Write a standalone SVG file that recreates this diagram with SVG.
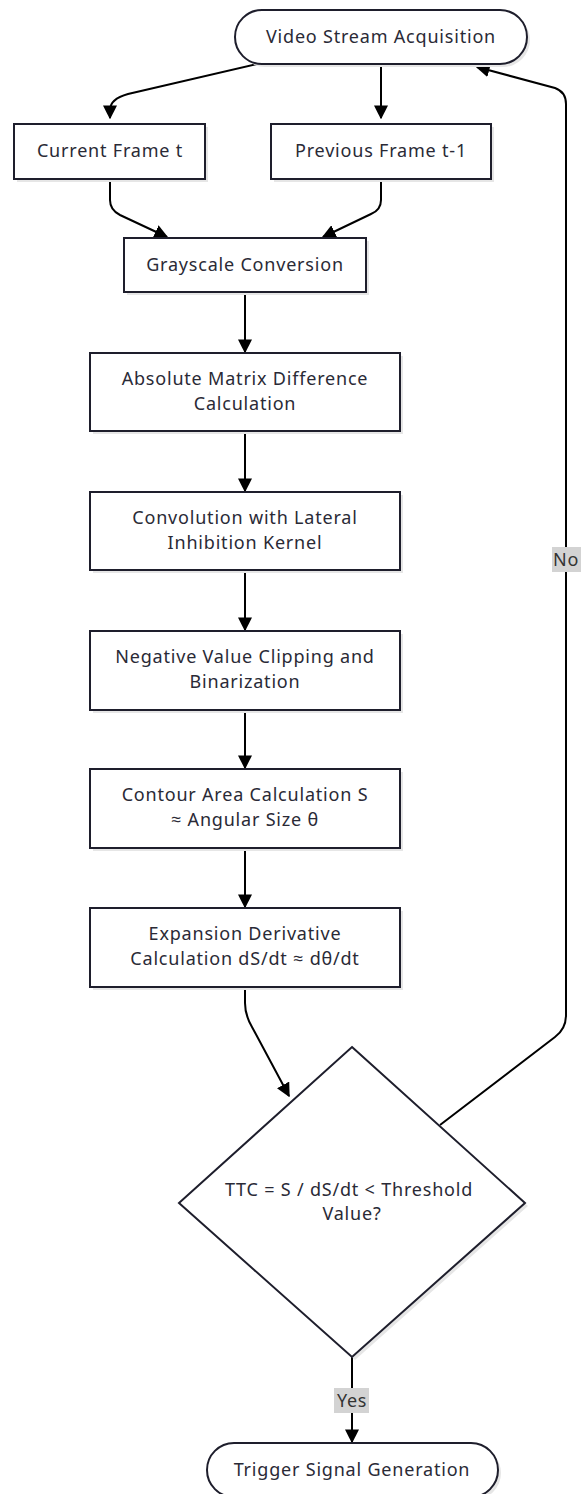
<svg xmlns="http://www.w3.org/2000/svg" width="584" height="1494" viewBox="0 0 584 1494">
<defs>
<style>
.n{fill:#ffffff;stroke:#1e1e2c;stroke-width:2}
.sh{fill:#e6e6e6;stroke:none}
.t{font-family:"Noto Sans","Open Sans",sans-serif;font-size:18px;letter-spacing:0.8px;fill:#2a2a36;text-anchor:middle}
.e{fill:none;stroke:#000000;stroke-width:2}
.lb{fill:#d3d3d3}
.lt{font-family:"Noto Sans","Open Sans",sans-serif;font-size:18px;letter-spacing:0.6px;fill:#333333;text-anchor:middle}
</style>
<marker id="ah" viewBox="0 0 10 10" refX="9" refY="5" markerWidth="7" markerHeight="7" orient="auto" markerUnits="strokeWidth">
<path d="M0,0 L10,5 L0,10 z" fill="#000000"/>
</marker>
</defs>
<rect width="584" height="1494" fill="#ffffff"/>
<g id="connectors">
<path class="e" d="M257,64 L128,94 Q110,99 110,110 L110,118" marker-end="url(#ah)"/>
<path class="e" d="M381,64 L381,118" marker-end="url(#ah)"/>
<path class="e" d="M110,179 L110,200 Q110,210 120,215 L167,237" marker-end="url(#ah)"/>
<path class="e" d="M381,179 L381,200 Q381,210 371,214 L323,237" marker-end="url(#ah)"/>
<path class="e" d="M245,292 L245,352" marker-end="url(#ah)"/>
<path class="e" d="M245,431 L245,491" marker-end="url(#ah)"/>
<path class="e" d="M245,570 L245,630" marker-end="url(#ah)"/>
<path class="e" d="M245,710 L245,768" marker-end="url(#ah)"/>
<path class="e" d="M245,848 L245,907" marker-end="url(#ah)"/>
<path class="e" d="M245,987 L245,1003 Q245,1015 252,1027 L289,1096" marker-end="url(#ah)"/>
<path class="e" d="M440,1125 L555,1037 Q566,1029 566,1015 L566,104 Q566,92 555,88 L477,67" marker-end="url(#ah)"/>
<path class="e" d="M352,1357 L352,1442" marker-end="url(#ah)"/>
<rect class="lb" x="552" y="547" width="29" height="25"/>
<text class="lt" x="566" y="566">No</text>
<rect class="lb" x="334" y="1388" width="35" height="25"/>
<text class="lt" x="352" y="1407">Yes</text>
</g>
<g id="video">
<rect class="sh" x="238" y="13" width="292" height="54" rx="27"/>
<rect class="n" x="235" y="10" width="292" height="54" rx="27"/>
<text class="t" x="381" y="43">Video Stream Acquisition</text>
</g>
<g id="current">
<rect class="sh" x="17" y="127" width="191" height="55"/>
<rect class="n" x="14" y="124" width="191" height="55"/>
<text class="t" x="110" y="157">Current Frame t</text>
</g>
<g id="previous">
<rect class="sh" x="274" y="127" width="220" height="55"/>
<rect class="n" x="271" y="124" width="220" height="55"/>
<text class="t" x="381" y="157">Previous Frame t-1</text>
</g>
<g id="grayscale">
<rect class="sh" x="127" y="241" width="242" height="54"/>
<rect class="n" x="124" y="238" width="242" height="54"/>
<text class="t" x="245" y="271">Grayscale Conversion</text>
</g>
<g id="absdiff">
<rect class="sh" x="93" y="356" width="310" height="78"/>
<rect class="n" x="90" y="353" width="310" height="78"/>
<text class="t" x="245" y="385">Absolute Matrix Difference</text>
<text class="t" x="245" y="410">Calculation</text>
</g>
<g id="convolution">
<rect class="sh" x="93" y="495" width="310" height="78"/>
<rect class="n" x="90" y="492" width="310" height="78"/>
<text class="t" x="245" y="524">Convolution with Lateral</text>
<text class="t" x="245" y="549">Inhibition Kernel</text>
</g>
<g id="negative">
<rect class="sh" x="93" y="634" width="310" height="79"/>
<rect class="n" x="90" y="631" width="310" height="79"/>
<text class="t" x="245" y="663">Negative Value Clipping and</text>
<text class="t" x="245" y="688">Binarization</text>
</g>
<g id="contour">
<rect class="sh" x="93" y="772" width="310" height="79"/>
<rect class="n" x="90" y="769" width="310" height="79"/>
<text class="t" x="245" y="801">Contour Area Calculation S</text>
<text class="t" x="245" y="826">≈ Angular Size θ</text>
</g>
<g id="expansion">
<rect class="sh" x="93" y="911" width="310" height="79"/>
<rect class="n" x="90" y="908" width="310" height="79"/>
<text class="t" x="245" y="940">Expansion Derivative</text>
<text class="t" x="245" y="965">Calculation dS/dt ≈ dθ/dt</text>
</g>
<g id="decision">
<polygon class="sh" points="355,1050 528,1206 355,1360 182,1206"/>
<polygon class="n" points="352,1047 525,1203 352,1357 179,1203"/>
<text class="t" x="349" y="1196">TTC = S / dS/dt &lt; Threshold</text>
<text class="t" x="352" y="1220">Value?</text>
</g>
<g id="trigger">
<rect class="sh" x="210" y="1446" width="291" height="54" rx="27"/>
<rect class="n" x="207" y="1443" width="291" height="54" rx="27"/>
<text class="t" x="352" y="1476">Trigger Signal Generation</text>
</g>
</svg>
